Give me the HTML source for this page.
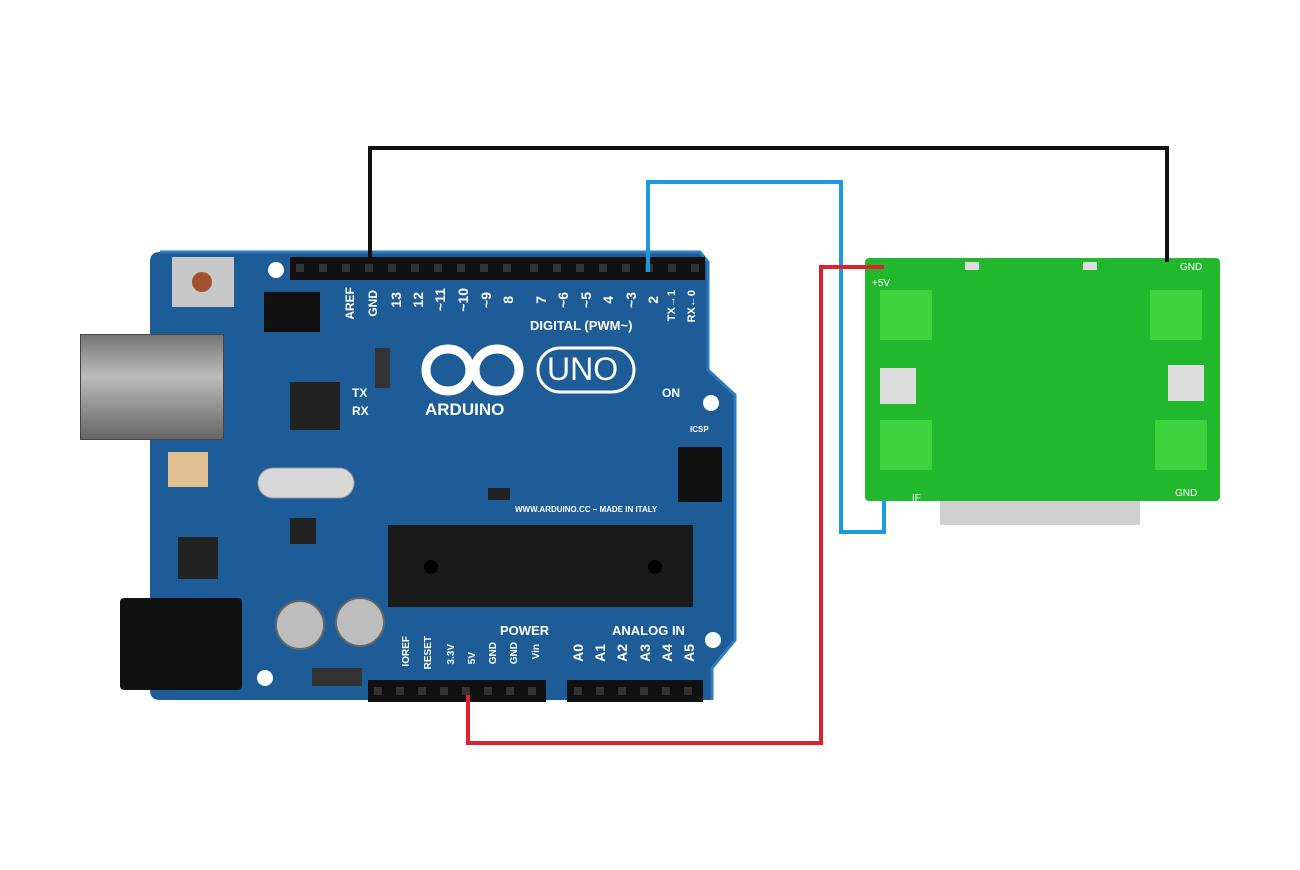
<!DOCTYPE html>
<html><head><style>
html,body{margin:0;padding:0;background:#fff;}
body{width:1300px;height:870px;position:relative;overflow:hidden;font-family:"Liberation Sans",sans-serif;}
.a{position:absolute;}
.lbl{position:absolute;color:#fff;font-weight:bold;font-size:13px;}
.v{position:absolute;color:#fff;font-weight:bold;writing-mode:vertical-rl;transform:rotate(180deg);white-space:nowrap;}
</style></head><body>

<svg class="a" style="left:0;top:0" width="1300" height="870">
  <path d="M160,252 L700,252 L708,262 L708,370 L735,395 L735,640 L712,668 L712,700 L160,700 Q150,700 150,690 L150,262 Q150,252 160,252 Z" fill="#1d5c97"/>
  <path d="M160,252 L700,252 L708,262 L708,370 L735,395 L735,640 L712,668 L712,700" fill="none" stroke="#2f79bd" stroke-width="3"/>
  <circle cx="276" cy="270" r="8" fill="#fff"/>
  <circle cx="711" cy="403" r="8" fill="#fff"/>
  <circle cx="713" cy="640" r="8" fill="#fff"/>
  <circle cx="265" cy="678" r="8" fill="#fff"/>
  <g fill="none" stroke="#fff" stroke-width="9">
    <ellipse cx="448" cy="370" rx="22" ry="21"/>
    <ellipse cx="497" cy="370" rx="22" ry="21"/>
  </g>
  <rect x="538" y="348" width="96" height="44" rx="22" fill="none" stroke="#fff" stroke-width="3"/>
  <rect x="388" y="525" width="305" height="82" fill="#1a1a1a"/>
  <circle cx="431" cy="567" r="7" fill="#000"/>
  <circle cx="655" cy="567" r="7" fill="#000"/>
  <rect x="290" y="382" width="50" height="48" fill="#222"/>
  <rect x="258" y="468" width="96" height="30" rx="15" fill="#d8d8d8" stroke="#999"/>
  <circle cx="300" cy="625" r="24" fill="#bdbdbd" stroke="#666" stroke-width="2"/>
  <circle cx="360" cy="622" r="24" fill="#bdbdbd" stroke="#666" stroke-width="2"/>
  <rect x="172" y="257" width="62" height="50" fill="#c8c8c8"/>
  <circle cx="202" cy="282" r="10" fill="#a0522d"/>
  <rect x="178" y="537" width="40" height="42" fill="#222"/>
  <rect x="168" y="452" width="40" height="35" fill="#e0c090"/>
  <rect x="290" y="518" width="26" height="26" fill="#222"/>
  <rect x="375" y="348" width="15" height="40" fill="#333"/>
  <rect x="488" y="488" width="22" height="12" fill="#222"/>
  <rect x="312" y="668" width="50" height="18" fill="#333"/>
  <!-- headers -->
  <rect x="290" y="257" width="415" height="23" fill="#111"/>
  <rect x="368" y="680" width="178" height="22" fill="#111"/>
  <rect x="567" y="680" width="136" height="22" fill="#111"/>
  <rect x="264" y="292" width="56" height="40" fill="#111"/>
  <rect x="678" y="447" width="44" height="55" fill="#111"/>
  <g fill="#333">
    <rect x="296" y="264" width="8" height="8"/><rect x="319" y="264" width="8" height="8"/><rect x="342" y="264" width="8" height="8"/><rect x="365" y="264" width="8" height="8"/><rect x="388" y="264" width="8" height="8"/><rect x="411" y="264" width="8" height="8"/><rect x="434" y="264" width="8" height="8"/><rect x="457" y="264" width="8" height="8"/><rect x="480" y="264" width="8" height="8"/><rect x="503" y="264" width="8" height="8"/>
    <rect x="530" y="264" width="8" height="8"/><rect x="553" y="264" width="8" height="8"/><rect x="576" y="264" width="8" height="8"/><rect x="599" y="264" width="8" height="8"/><rect x="622" y="264" width="8" height="8"/><rect x="645" y="264" width="8" height="8"/><rect x="668" y="264" width="8" height="8"/><rect x="691" y="264" width="8" height="8"/>
    <rect x="374" y="687" width="8" height="8"/><rect x="396" y="687" width="8" height="8"/><rect x="418" y="687" width="8" height="8"/><rect x="440" y="687" width="8" height="8"/><rect x="462" y="687" width="8" height="8"/><rect x="484" y="687" width="8" height="8"/><rect x="506" y="687" width="8" height="8"/><rect x="528" y="687" width="8" height="8"/>
    <rect x="574" y="687" width="8" height="8"/><rect x="596" y="687" width="8" height="8"/><rect x="618" y="687" width="8" height="8"/><rect x="640" y="687" width="8" height="8"/><rect x="662" y="687" width="8" height="8"/><rect x="684" y="687" width="8" height="8"/>
  </g>
</svg>

<div class="a" style="left:80px;top:334px;width:142px;height:104px;background:linear-gradient(#777,#bbb 40%,#666);border:1px solid #444;"></div>
<div class="a" style="left:120px;top:598px;width:122px;height:92px;background:#111;border-radius:4px;"></div>

<div class="lbl" style="left:425px;top:400px;font-size:17px;">ARDUINO</div>
<div class="lbl" style="left:547px;top:351px;font-size:32px;font-weight:normal;">UNO</div>
<div class="lbl" style="left:530px;top:318px;">DIGITAL (PWM~)</div>
<div class="lbl" style="left:500px;top:623px;">POWER</div>
<div class="lbl" style="left:612px;top:623px;">ANALOG IN</div>
<div class="lbl" style="left:662px;top:386px;font-size:12px;">ON</div>
<div class="lbl" style="left:352px;top:386px;font-size:12px;">TX</div>
<div class="lbl" style="left:352px;top:404px;font-size:12px;">RX</div>
<div class="lbl" style="left:515px;top:505px;font-size:8px;">WWW.ARDUINO.CC – MADE IN ITALY</div>
<div class="lbl" style="left:690px;top:425px;font-size:8px;">ICSP</div>

<div class="v" style="left:343px;top:287px;font-size:12px;">AREF</div>
<div class="v" style="left:366px;top:290px;font-size:12px;">GND</div>
<div class="v" style="left:388px;top:292px;font-size:14px;">13</div>
<div class="v" style="left:410px;top:292px;font-size:14px;">12</div>
<div class="v" style="left:432px;top:288px;font-size:14px;">~11</div>
<div class="v" style="left:455px;top:288px;font-size:14px;">~10</div>
<div class="v" style="left:478px;top:292px;font-size:14px;">~9</div>
<div class="v" style="left:500px;top:296px;font-size:14px;">8</div>
<div class="v" style="left:533px;top:296px;font-size:14px;">7</div>
<div class="v" style="left:555px;top:292px;font-size:14px;">~6</div>
<div class="v" style="left:578px;top:292px;font-size:14px;">~5</div>
<div class="v" style="left:600px;top:296px;font-size:14px;">4</div>
<div class="v" style="left:623px;top:292px;font-size:14px;">~3</div>
<div class="v" style="left:645px;top:296px;font-size:14px;">2</div>
<div class="v" style="left:666px;top:290px;font-size:11px;">TX→1</div>
<div class="v" style="left:686px;top:290px;font-size:11px;">RX←0</div>

<div class="v" style="left:401px;top:636px;font-size:10px;">IOREF</div>
<div class="v" style="left:423px;top:636px;font-size:10px;">RESET</div>
<div class="v" style="left:446px;top:644px;font-size:10px;">3.3V</div>
<div class="v" style="left:467px;top:652px;font-size:10px;">5V</div>
<div class="v" style="left:488px;top:642px;font-size:10px;">GND</div>
<div class="v" style="left:509px;top:642px;font-size:10px;">GND</div>
<div class="v" style="left:531px;top:644px;font-size:10px;">Vin</div>
<div class="v" style="left:570px;top:644px;font-size:14px;">A0</div>
<div class="v" style="left:592px;top:644px;font-size:14px;">A1</div>
<div class="v" style="left:614px;top:644px;font-size:14px;">A2</div>
<div class="v" style="left:637px;top:644px;font-size:14px;">A3</div>
<div class="v" style="left:659px;top:644px;font-size:14px;">A4</div>
<div class="v" style="left:681px;top:644px;font-size:14px;">A5</div>

<!-- Sensor -->
<div class="a" style="left:940px;top:488px;width:200px;height:37px;background:#d0d0d0;"></div>
<div class="a" style="left:865px;top:258px;width:355px;height:243px;background:#22b82e;border-radius:4px;"></div>
<div class="a" style="left:880px;top:290px;width:52px;height:50px;background:#3fd23f;"></div>
<div class="a" style="left:880px;top:420px;width:52px;height:50px;background:#3fd23f;"></div>
<div class="a" style="left:1150px;top:290px;width:52px;height:50px;background:#3fd23f;"></div>
<div class="a" style="left:1155px;top:420px;width:52px;height:50px;background:#3fd23f;"></div>
<div class="a" style="left:880px;top:368px;width:36px;height:36px;background:#ddd;"></div>
<div class="a" style="left:1168px;top:365px;width:36px;height:36px;background:#ddd;"></div>
<div class="a" style="left:965px;top:262px;width:14px;height:8px;background:#ddd;"></div>
<div class="a" style="left:1083px;top:262px;width:14px;height:8px;background:#ddd;"></div>
<div class="lbl" style="left:872px;top:278px;font-size:10px;font-weight:normal;">+5V</div>
<div class="lbl" style="left:1180px;top:262px;font-size:10px;font-weight:normal;">GND</div>
<div class="lbl" style="left:1175px;top:488px;font-size:10px;font-weight:normal;">GND</div>
<div class="lbl" style="left:912px;top:493px;font-size:10px;font-weight:normal;">IF</div>

<svg class="a" style="left:0;top:0" width="1300" height="870">
  <polyline points="370,262 370,148 1167,148 1167,262" fill="none" stroke="#111" stroke-width="4"/>
  <polyline points="648,272 648,182 841,182 841,532 884,532 884,500" fill="none" stroke="#1a9be0" stroke-width="4"/>
  <polyline points="468,695 468,743 821,743 821,267 884,267" fill="none" stroke="#e0202a" stroke-width="4"/>
</svg>
</body></html>
